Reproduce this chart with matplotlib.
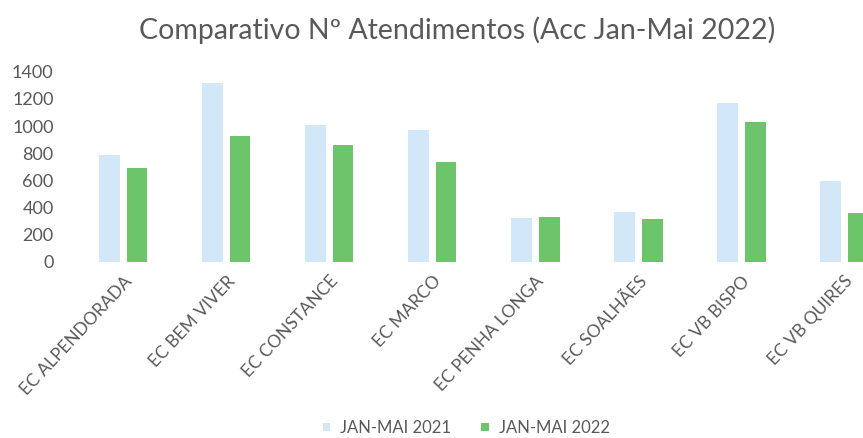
import numpy as np
import matplotlib.pyplot as plt

plt.rcParams['font.family'] = ['Lato', 'DejaVu Sans']

categories = ["EC ALPENDORADA", "EC BEM VIVER", "EC CONSTANCE", "EC MARCO",
              "EC PENHA LONGA", "EC SOALHÃES", "EC VB BISPO", "EC VB QUIRES"]
jan_mai_2021 = [790, 1320, 1010, 975, 325, 368, 1172, 598]
jan_mai_2022 = [695, 930, 862, 737, 333, 318, 1032, 362]

blue = '#d2e7f8'
green = '#6cc56a'
grey = '#595959'

fig = plt.figure(figsize=(8.63, 4.38), dpi=100)
ax = fig.add_axes([0.083, 0.402, 0.917, 0.434])

x = np.arange(len(categories))
w = 0.2
ax.bar(x - 0.135, jan_mai_2021, w, color=blue, label="JAN-MAI 2021")
ax.bar(x + 0.135, jan_mai_2022, w, color=green, label="JAN-MAI 2022")

ax.set_xlim(-0.5, 7.18)
ax.set_ylim(0, 1400)
ax.set_yticks(range(0, 1401, 200))
ax.tick_params(axis='y', length=0, labelsize=13, labelcolor=grey, pad=13)
ax.set_xticks(x)
ax.set_xticklabels(categories, rotation=47, ha='right', rotation_mode='anchor')
ax.tick_params(axis='x', length=0, labelsize=12.5, labelcolor=grey, pad=8)
for s in ax.spines.values():
    s.set_visible(False)

fig.text(0.53, 0.93, "Comparativo Nº Atendimentos (Acc Jan-Mai 2022)",
         ha='center', va='center', fontsize=20.5, color=grey)

fig.legend(loc='center', bbox_to_anchor=(0.54, 0.023), ncol=2, frameon=False,
           fontsize=12, labelcolor=grey, handlelength=0.45, handleheight=0.45,
           columnspacing=1.8, handletextpad=0.6)

fig.savefig("out.png", dpi=100)
